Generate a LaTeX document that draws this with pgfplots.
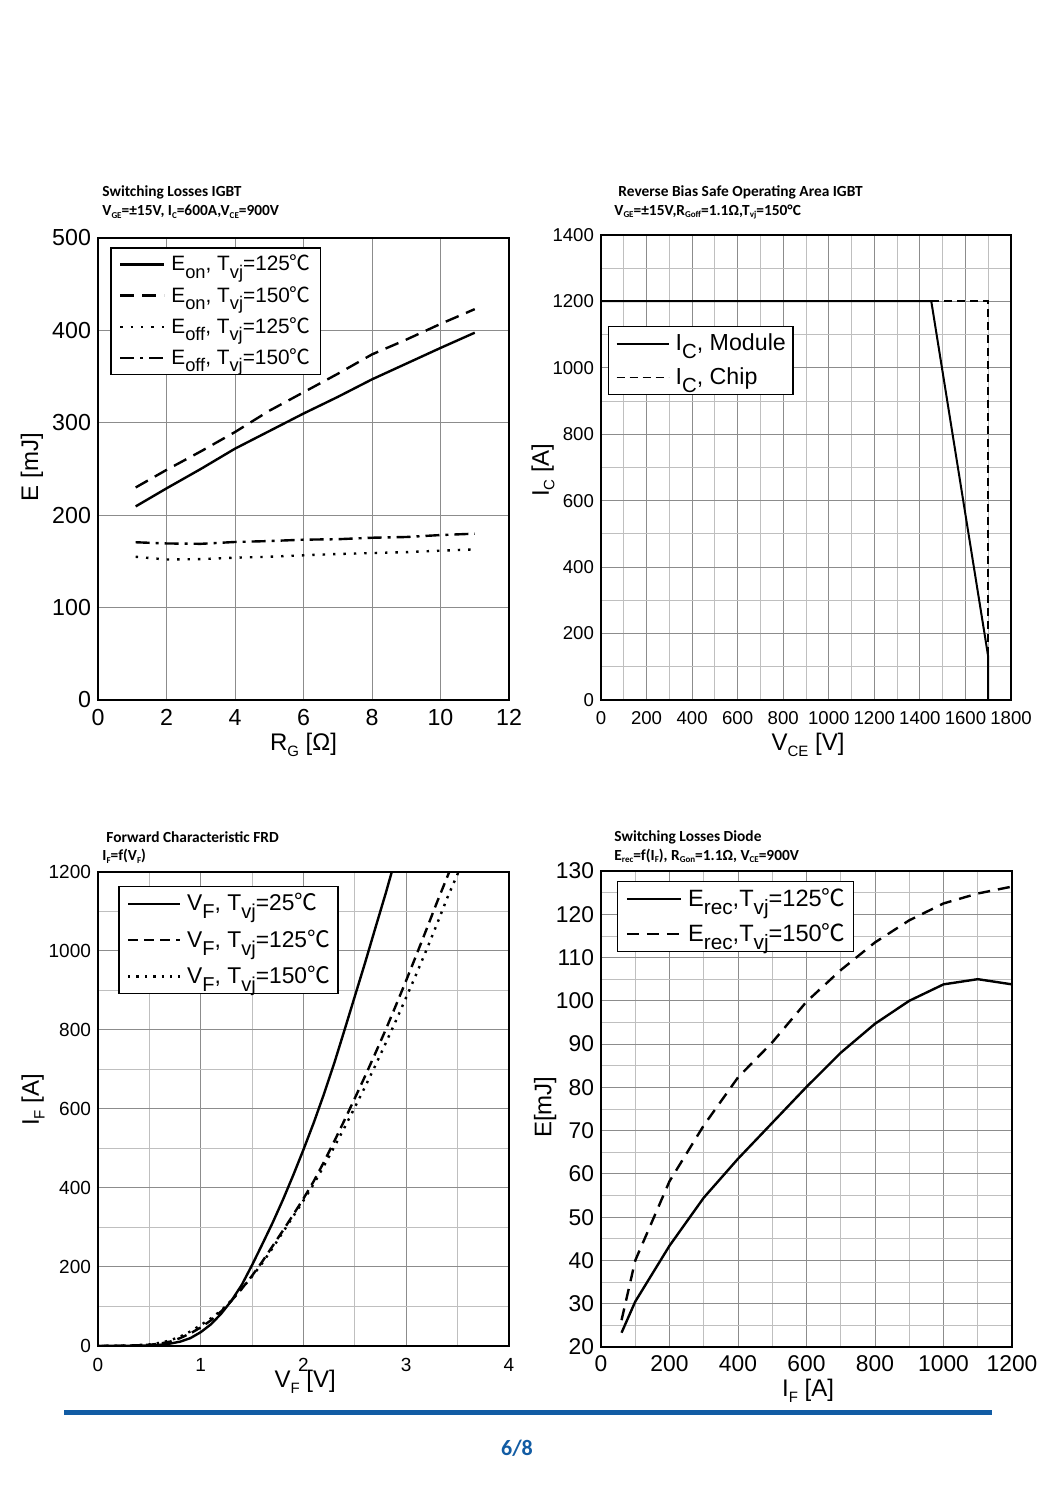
\documentclass[border=0pt]{standalone}
\usepackage{fontspec}
\setmainfont{Liberation Sans}
\newfontfamily\cjk{Noto Sans CJK SC}
\newfontfamily\calb[BoldFont={Carlito Bold}]{Carlito}
\usepackage{pgfplots}
\pgfplotsset{compat=1.18}
\newcommand\degc{{\cjk ℃}}
\newcommand\ls[1]{\raisebox{-0.35em}{\scalebox{0.88}{#1}}}
\newcommand\as[1]{\raisebox{-0.45ex}{\fontsize{7.5}{7.5}\selectfont #1}}
\newcommand\ts[1]{\raisebox{-0.35ex}{\fontsize{4.5}{4.5}\selectfont #1}}
\definecolor{footblue}{RGB}{18,92,164}
\pgfplotsset{
  myax/.style={
    scale only axis, anchor=south west,
    axis line style={line width=1pt},
    major grid style={line width=0.5pt, black!45},
    minor grid style={line width=0.4pt, black!25},
    major tick length=0pt, minor tick length=0pt,
    /pgf/number format/assume math mode=true,
    /pgf/number format/1000 sep={},
    legend cell align=left,
    xlabel style={anchor=center, font=\fontsize{12}{14}\selectfont},
    ylabel style={anchor=center, font=\fontsize{12}{14}\selectfont},
    clip=true,
  }
}
\begin{document}
\begin{tikzpicture}
\useasboundingbox (0,0) rectangle (530pt,749pt);
\fill[white] (0,0) rectangle (530pt,749pt);

% ---------------- Plot 1 ----------------
\node[anchor=west, inner sep=0pt, font=\calb\bfseries\fontsize{7.7}{9}\selectfont] at (51pt,653pt) {Switching Losses IGBT};
\node[anchor=west, inner sep=0pt, font=\calb\bfseries\fontsize{7.7}{9}\selectfont] at (51pt,643pt) {V\ts{GE}=±15V, I\ts{C}=600A,V\ts{CE}=900V};
\begin{axis}[myax, at={(49pt,399pt)}, width=205.5pt, height=231pt,
  xmin=0, xmax=12, ymin=0, ymax=500,
  xtick={0,2,...,12}, ytick={0,100,...,500}, grid=major,
  tick label style={font=\fontsize{11.6}{13}\selectfont},
  xticklabel style={yshift=-1pt},
  xlabel={R\as{G} [Ω]}, ylabel={E [mJ]},
  xlabel style={at={(axis description cs:0.5,-0.0974)}},
  ylabel style={at={(axis description cs:-0.161,0.504)}},
  legend style={at={(0.03,0.98)}, anchor=north west, draw=black, line width=0.7pt,
    font=\fontsize{10.4}{12}\selectfont, row sep=2.2pt, inner xsep=3pt, inner ysep=1.5pt},
  legend image code/.code={\draw[#1] (1pt,0pt) -- (23pt,0pt); \path (0pt,0pt) (24pt,0pt);},
]
\addplot[black, line width=1.2pt] coordinates {(1.1,209.5)(2,229)(3,250)(4,272)(5,291)(6,310)(7,328)(8,347)(9,364)(10,381)(11,397.5)};
\addplot[black, line width=1.2pt, dash pattern=on 7pt off 4pt] coordinates {(1.1,230)(2,249)(3,269)(4,290)(5,313)(6,333)(7,353)(8,374)(9,390)(10,407)(11,423)};
\addplot[black, line width=1.2pt, dash pattern=on 1.2pt off 4pt] coordinates {(1.1,155)(2,152)(3,152.5)(4,154)(5,155)(6,156.6)(7,158)(8,159)(9,160)(10,161.6)(11,163)};
\addplot[black, line width=1.2pt, dash pattern=on 7pt off 3pt on 1.5pt off 3pt] coordinates {(1.1,170.7)(2,169.4)(3,169)(4,171)(5,172)(6,173.5)(7,174)(8,175.6)(9,176.4)(10,178.5)(11,180)};
\legend{{E\ls{on}, T\ls{vj}=125\degc}, {E\ls{on}, T\ls{vj}=150\degc}, {E\ls{off}, T\ls{vj}=125\degc}, {E\ls{off}, T\ls{vj}=150\degc}}
\end{axis}

% ---------------- Plot 2 ----------------
\node[anchor=west, inner sep=0pt, font=\calb\bfseries\fontsize{7.7}{9}\selectfont] at (309pt,653pt) {Reverse Bias Safe Operating Area IGBT};
\node[anchor=west, inner sep=0pt, font=\calb\bfseries\fontsize{7.7}{9}\selectfont] at (307pt,643pt) {V\ts{GE}=±15V,R\ts{Goff}=1.1Ω,T\ts{vj}=150°C};
\begin{axis}[myax, at={(300.5pt,399pt)}, width=205pt, height=232.6pt,
  xmin=0, xmax=1800, ymin=0, ymax=1400,
  xtick={0,200,...,1800}, minor xtick={100,300,...,1700},
  ytick={0,200,...,1400}, minor ytick={100,300,...,1300}, grid=both,
  tick label style={font=\fontsize{9.3}{11}\selectfont},
  xticklabel style={yshift=-2pt},
  xlabel={V\as{CE} [V]}, ylabel={I\as{C} [A]},
  xlabel style={at={(axis description cs:0.505,-0.0967)}},
  ylabel style={at={(axis description cs:-0.1415,0.494)}},
  legend style={at={(0.017,0.804)}, anchor=north west, draw=black, line width=0.7pt,
    font=\fontsize{11.6}{13}\selectfont, row sep=3pt, inner xsep=1.5pt, inner ysep=1.5pt},
  legend image code/.code={\draw[#1] (2pt,0pt) -- (28pt,0pt); \path (0pt,0pt) (29pt,0pt);},
]
\addplot[black, line width=1pt] coordinates {(0,1200)(1450,1200)(1700,130)(1700,0)};
\addplot[black, line width=0.8pt, dash pattern=on 4pt off 2.5pt] coordinates {(1450,1200)(1700,1200)(1700,130)};
\legend{{I\ls{C}, Module}, {I\ls{C}, Chip}}
\end{axis}

% ---------------- Plot 3 ----------------
\node[anchor=west, inner sep=0pt, font=\calb\bfseries\fontsize{7.7}{9}\selectfont] at (53pt,330.5pt) {Forward Characteristic FRD};
\node[anchor=west, inner sep=0pt, font=\calb\bfseries\fontsize{7.7}{9}\selectfont] at (51pt,321pt) {I\ts{F}=f(V\ts{F})};
\begin{axis}[myax, at={(49pt,76pt)}, width=205.5pt, height=237.2pt,
  xmin=0, xmax=4, ymin=0, ymax=1200,
  xtick={0,1,...,4}, minor xtick={0.5,1.5,2.5,3.5},
  ytick={0,200,...,1200}, minor ytick={100,300,...,1100}, grid=both,
  tick label style={font=\fontsize{9.5}{11}\selectfont},
  xticklabel style={yshift=-2.5pt},
  xlabel={V\as{F} [V]}, ylabel={I\as{F} [A]},
  xlabel style={at={(axis description cs:0.504,-0.0759)}},
  ylabel style={at={(axis description cs:-0.158,0.519)}},
  legend style={at={(0.049,0.97)}, anchor=north west, draw=black, line width=0.7pt,
    font=\fontsize{11.4}{13}\selectfont, row sep=4pt, inner xsep=2pt, inner ysep=1.5pt},
  legend image code/.code={\draw[#1] (2pt,0pt) -- (28pt,0pt); \path (0pt,0pt) (29pt,0pt);},
]
\addplot[black, line width=1.2pt] coordinates {(0,0)(0.5,1)(0.6,3)(0.7,6)(0.8,11)(0.9,20)(1.0,35)(1.1,55)(1.2,82)(1.3,115)(1.4,155)(1.5,205)(1.6,258)(1.7,312)(1.8,370)(1.9,432)(2.0,497)(2.1,565)(2.2,638)(2.3,716)(2.4,800)(2.5,885)(2.6,970)(2.7,1058)(2.8,1145)(2.86,1200)};
\addplot[black, line width=1.2pt, dash pattern=on 5pt off 3pt] coordinates {(0,0)(0.3,1)(0.5,3)(0.6,6)(0.7,11)(0.8,20)(0.9,32)(1.0,47)(1.1,65)(1.2,88)(1.3,115)(1.4,145)(1.5,178)(1.6,214)(1.7,253)(1.8,292)(1.9,332)(2.0,373)(2.1,417)(2.2,466)(2.3,518)(2.4,572)(2.5,627)(2.6,683)(2.7,741)(2.8,800)(2.9,862)(3.0,925)(3.1,990)(3.2,1056)(3.3,1123)(3.42,1200)};
\addplot[black, line width=1.2pt, dash pattern=on 1.2pt off 3pt] coordinates {(0,0)(0.3,1)(0.5,4)(0.6,8)(0.7,14)(0.8,24)(0.9,37)(1.0,53)(1.1,70)(1.2,90)(1.3,116)(1.4,145)(1.5,176)(1.6,210)(1.7,248)(1.8,288)(1.9,328)(2.0,368)(2.1,410)(2.2,456)(2.3,504)(2.4,553)(2.5,604)(2.6,656)(2.7,710)(2.8,766)(2.9,823)(3.0,882)(3.1,942)(3.2,1004)(3.3,1068)(3.4,1134)(3.51,1200)};
\legend{{V\ls{F}, T\ls{vj}=25\degc}, {V\ls{F}, T\ls{vj}=125\degc}, {V\ls{F}, T\ls{vj}=150\degc}}
\end{axis}

% ---------------- Plot 4 ----------------
\node[anchor=west, inner sep=0pt, font=\calb\bfseries\fontsize{7.7}{9}\selectfont] at (307pt,330.5pt) {Switching Losses Diode};
\node[anchor=west, inner sep=0pt, font=\calb\bfseries\fontsize{7.7}{9}\selectfont] at (307pt,321pt) {E\ts{rec}=f(I\ts{F}), R\ts{Gon}=1.1Ω, V\ts{CE}=900V};
\begin{axis}[myax, at={(300.5pt,75.5pt)}, width=205.5pt, height=238pt,
  xmin=0, xmax=1200, ymin=20, ymax=130,
  xtick={0,200,...,1200}, minor xtick={100,300,...,1100},
  ytick={20,30,...,130}, minor ytick={25,35,...,125}, grid=both,
  tick label style={font=\fontsize{11.4}{13}\selectfont},
  xticklabel style={yshift=-1pt},
  xlabel={I\as{F} [A]}, ylabel={E[mJ]},
  xlabel style={at={(axis description cs:0.504,-0.092)}},
  ylabel style={at={(axis description cs:-0.136,0.504)}},
  legend style={at={(0.039,0.979)}, anchor=north west, draw=black, line width=0.7pt,
    font=\fontsize{11.8}{13}\selectfont, row sep=2.8pt, inner xsep=2pt, inner ysep=1.5pt},
  legend image code/.code={\draw[#1] (2pt,0pt) -- (29pt,0pt); \path (0pt,0pt) (30pt,0pt);},
]
\addplot[black, line width=1.2pt] coordinates {(60,23.3)(100,30.5)(200,43.4)(300,54.5)(400,63.5)(500,71.8)(600,80.1)(700,88)(800,94.7)(900,100)(1000,103.8)(1100,105)(1200,103.8)};
\addplot[black, line width=1.2pt, dash pattern=on 6pt off 4pt] coordinates {(60,26.2)(100,40)(200,58.3)(300,71.2)(400,82.3)(500,90.4)(600,99.8)(700,107.1)(800,113.5)(900,118.6)(1000,122.5)(1100,124.8)(1200,126.4)};
\legend{{E\ls{rec},T\ls{vj}=125\degc}, {E\ls{rec},T\ls{vj}=150\degc}}
\end{axis}

% footer
\draw[footblue, line width=2.5pt] (32pt,42.5pt) -- (496pt,42.5pt);
\node[footblue, font=\calb\bfseries\fontsize{11}{13}\selectfont] at (258.5pt,25pt) {6/8};
\end{tikzpicture}
\end{document}
